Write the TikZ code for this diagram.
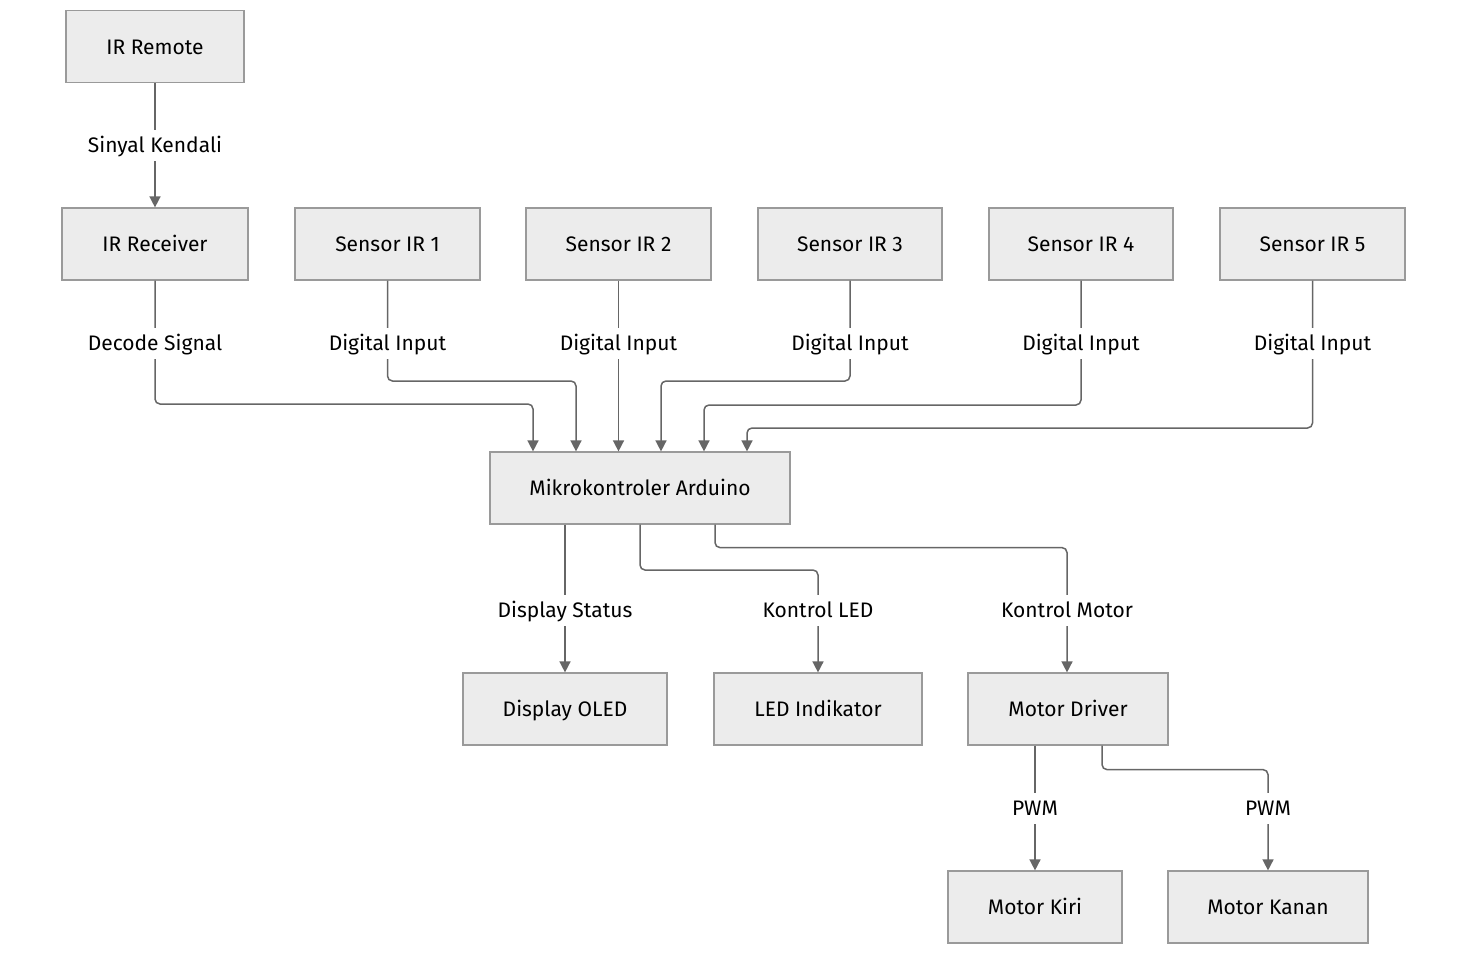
\documentclass[tikz,border=0pt]{standalone}
\usepackage{fontspec}
\setmainfont{Fira Sans}
\usetikzlibrary{arrows.meta,calc}

\definecolor{boxfill}{HTML}{ECECEC}
\definecolor{boxline}{HTML}{9A9A9A}
\definecolor{wirecol}{HTML}{666666}

\begin{document}
\begin{tikzpicture}[x=0.5pt,y=-0.5pt,
  block/.style={rectangle, draw=boxline, fill=boxfill, line width=0.6pt,
                minimum height=36pt, inner sep=0pt, text height=9pt, text depth=1.5pt,
                font=\fontsize{10.5}{12}\selectfont},
  wire/.style={draw=wirecol, line width=0.75pt, rounded corners=2.5pt,
               -{Triangle[length=5.5pt,width=5.5pt]}},
  lbl/.style={fill=white, inner xsep=1.5pt, inner ysep=2.5pt, text height=9pt, text depth=1.5pt,
              font=\fontsize{10.5}{12}\selectfont}]

\useasboundingbox (0,0) rectangle (1470,953);

% Blocks
\node[block, minimum width=89pt] (remote) at (155,46.5) {IR Remote};
\node[block, minimum width=93pt] (recv) at (155,244) {IR Receiver};
\node[block, minimum width=92.5pt] (s1) at (387.5,244) {Sensor IR 1};
\node[block, minimum width=92.5pt] (s2) at (618.5,244) {Sensor IR 2};
\node[block, minimum width=92pt] (s3) at (850,244) {Sensor IR 3};
\node[block, minimum width=92pt] (s4) at (1081,244) {Sensor IR 4};
\node[block, minimum width=92.5pt] (s5) at (1312.5,244) {Sensor IR 5};
\node[block, minimum width=150pt] (ard) at (640,488) {Mikrokontroler Arduino};
\node[block, minimum width=102pt] (oled) at (565,709) {Display OLED};
\node[block, minimum width=104pt] (led) at (818,709) {LED Indikator};
\node[block, minimum width=100pt] (drv) at (1068,709) {Motor Driver};
\node[block, minimum width=87pt] (kiri) at (1035,907) {Motor Kiri};
\node[block, minimum width=100pt] (kanan) at (1268,907) {Motor Kanan};

% Connectors
\draw[wire] (remote) -- (recv);
\draw[wire] (recv.south) -- (recv.south |- 0,404) -| ($(ard.north)+(-107,0)$);
\draw[wire] (s1.south) -- (s1.south |- 0,381) -| ($(ard.north)+(-64,0)$);
\draw[wire] (s2.south) -- (s2.south |- ard.north);
\draw[wire] (s3.south) -- (s3.south |- 0,381) -| ($(ard.north)+(21,0)$);
\draw[wire] (s4.south) -- (s4.south |- 0,405) -| ($(ard.north)+(64,0)$);
\draw[wire] (s5.south) -- (s5.south |- 0,428) -| ($(ard.north)+(107,0)$);

\draw[wire] ($(ard.south)+(-75,0)$) -- (oled.north);
\draw[wire] (ard.south) -- (ard.south |- 0,570) -| (led.north);
\draw[wire] ($(ard.south)+(75,0)$) -- ++(0,23) -| ($(drv.north)+(-1,0)$);

\draw[wire] ($(drv.south)+(-33,0)$) -- (kiri.north);
\draw[wire] ($(drv.south)+(34,0)$) -- ++(0,24) -| (kanan.north);

% Labels
\foreach \x/\y/\t in {155/145/Sinyal Kendali, 155/343/Decode Signal,
                      387.5/343/Digital Input, 618.5/343/Digital Input,
                      850/343/Digital Input, 1081/343/Digital Input,
                      1312.5/343/Digital Input,
                      565/610/Display Status, 818/610/Kontrol LED,
                      1067/610/Kontrol Motor,
                      1035/808/PWM, 1268/808/PWM}
    \node[lbl] at (\x,\y) {\t};

\end{tikzpicture}
\end{document}
